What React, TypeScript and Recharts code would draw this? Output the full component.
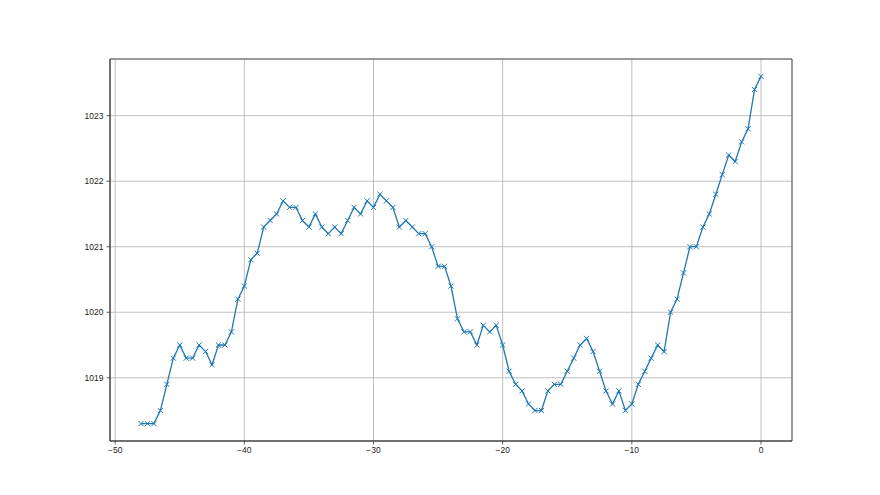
import {
  CartesianGrid,
  Line,
  LineChart,
  ReferenceArea,
  XAxis,
  YAxis,
} from "recharts";

// hours relative to now, every half hour
const hours: number[] = [
  -48, -47.5, -47, -46.5, -46, -45.5, -45, -44.5, -44, -43.5, -43, -42.5,
  -42, -41.5, -41, -40.5, -40, -39.5, -39, -38.5, -38, -37.5, -37, -36.5,
  -36, -35.5, -35, -34.5, -34, -33.5, -33, -32.5, -32, -31.5, -31, -30.5,
  -30, -29.5, -29, -28.5, -28, -27.5, -27, -26.5, -26, -25.5, -25, -24.5,
  -24, -23.5, -23, -22.5, -22, -21.5, -21, -20.5, -20, -19.5, -19, -18.5,
  -18, -17.5, -17, -16.5, -16, -15.5, -15, -14.5, -14, -13.5, -13, -12.5,
  -12, -11.5, -11, -10.5, -10, -9.5, -9, -8.5, -8, -7.5, -7, -6.5,
  -6, -5.5, -5, -4.5, -4, -3.5, -3, -2.5, -2, -1.5, -1, -0.5, 0,
];

const pressure: number[] = [
  1018.3, 1018.3, 1018.3, 1018.5, 1018.9, 1019.3, 1019.5, 1019.3, 1019.3, 1019.5, 1019.4, 1019.2,
  1019.5, 1019.5, 1019.7, 1020.2, 1020.4, 1020.8, 1020.9, 1021.3, 1021.4, 1021.5, 1021.7, 1021.6,
  1021.6, 1021.4, 1021.3, 1021.5, 1021.3, 1021.2, 1021.3, 1021.2, 1021.4, 1021.6, 1021.5, 1021.7,
  1021.6, 1021.8, 1021.7, 1021.6, 1021.3, 1021.4, 1021.3, 1021.2, 1021.2, 1021.0, 1020.7, 1020.7,
  1020.4, 1019.9, 1019.7, 1019.7, 1019.5, 1019.8, 1019.7, 1019.8, 1019.5, 1019.1, 1018.9, 1018.8,
  1018.6, 1018.5, 1018.5, 1018.8, 1018.9, 1018.9, 1019.1, 1019.3, 1019.5, 1019.6, 1019.4, 1019.1,
  1018.8, 1018.6, 1018.8, 1018.5, 1018.6, 1018.9, 1019.1, 1019.3, 1019.5, 1019.4, 1020.0, 1020.2,
  1020.6, 1021.0, 1021.0, 1021.3, 1021.5, 1021.8, 1022.1, 1022.4, 1022.3, 1022.6, 1022.8, 1023.4,
  1023.6,
];

const xTicks = [-50, -40, -30, -20, -10, 0];
const yTicks = [1019, 1020, 1021, 1022, 1023];

const data = hours.map((h, i) => ({ h, p: pressure[i] }));

const X_DOMAIN: [number, number] = [-50.4, 2.4];
const Y_DOMAIN: [number, number] = [1018.035, 1023.865];
const BLUE = "#1f77b4";
const AXIS = "#333";

function XMarker(props: any) {
  const { cx, cy } = props;
  if (cx == null || cy == null) return null;
  const r = 2.6;
  return (
    <path
      d={`M${cx - r},${cy - r}L${cx + r},${cy + r}M${cx + r},${cy - r}L${cx - r},${cy + r}`}
      stroke={BLUE}
      strokeWidth={1}
      fill="none"
    />
  );
}

const fmt = (v: number) => String(v).replace("-", "\u2212");

export default function App() {
  const tickStyle = { fill: "#222", fontSize: 8.5, fontFamily: "Liberation Sans" };
  return (
    <div style={{ position: "absolute", left: 0, top: 0, background: "#fff" }}>
      <LineChart
        width={880}
        height={495}
        data={data}
        margin={{ top: 59, right: 88, left: 50, bottom: 24 }}
      >
        <CartesianGrid stroke="#b0b0b0" strokeWidth={0.8} />
        <XAxis
          dataKey="h"
          type="number"
          domain={X_DOMAIN}
          ticks={xTicks}
          allowDataOverflow
          height={30}
          tick={tickStyle}
          tickFormatter={fmt}
          tickSize={3.5}
          tickMargin={2}
          tickLine={{ stroke: AXIS, strokeWidth: 0.8 }}
          axisLine={{ stroke: AXIS, strokeWidth: 0.8 }}
        />
        <YAxis
          type="number"
          domain={Y_DOMAIN}
          ticks={yTicks}
          allowDataOverflow
          width={60}
          tick={tickStyle}
          tickSize={3.5}
          tickMargin={3}
          tickLine={{ stroke: AXIS, strokeWidth: 0.8 }}
          axisLine={{ stroke: AXIS, strokeWidth: 0.8 }}
        />
        <ReferenceArea
          x1={X_DOMAIN[0]}
          x2={X_DOMAIN[1]}
          y1={Y_DOMAIN[0]}
          y2={Y_DOMAIN[1]}
          fill="none"
          stroke={AXIS}
          strokeWidth={0.8}
        />
        <Line
          dataKey="p"
          type="linear"
          stroke={BLUE}
          strokeWidth={1.3}
          dot={<XMarker />}
          activeDot={false}
          isAnimationActive={false}
        />
      </LineChart>
    </div>
  );
}
